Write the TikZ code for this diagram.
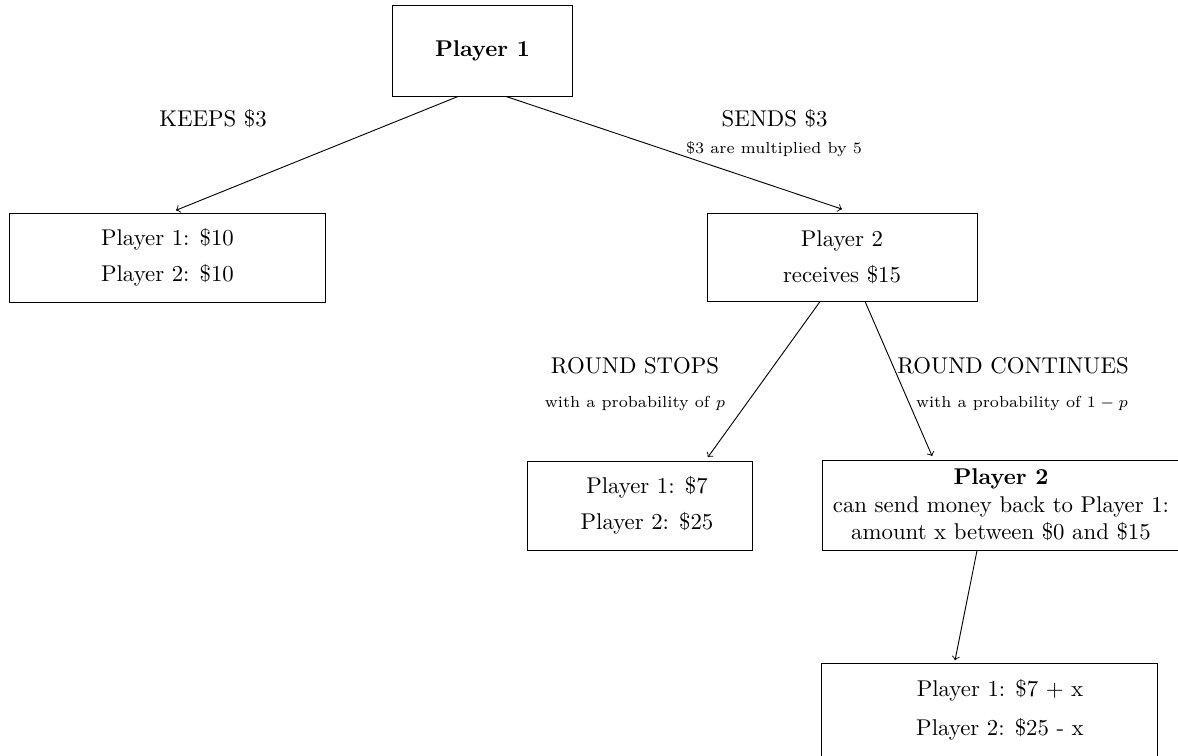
\documentclass[tikz,border=0pt]{standalone}
\begin{document}
\begin{tikzpicture}[x=0.4386pt, y=-0.4386pt,
  box/.style={draw, rectangle, inner sep=0pt, align=center},
  txt/.style={inner sep=0pt, align=center},
  small/.style={inner sep=0pt, align=center, font=\scriptsize},
  conn/.style={->}]
\useasboundingbox (0,0) rectangle (1178,756);
% boxes
\node[box, minimum width=78.9pt, minimum height=39.9pt, font=\bfseries] (p1) at (482.5,50.5) {Player 1};
\node[box, minimum width=138.2pt, minimum height=39.0pt] (keep) at (167.5,257.5) {Player 1: \$10\\[4pt]Player 2: \$10};
\node[box, minimum width=118.4pt, minimum height=38.6pt] (p2) at (842,257) {Player 2\\[4pt]receives \$15};
\node[box, minimum width=98.7pt, minimum height=39.0pt] (stop) at (639.5,505.5) {};
\node[txt] (stoptxt) at (647,505.5) {Player 1: \$7\\[4pt]Player 2: \$25};
\node[box, minimum width=156.6pt, minimum height=39.5pt] (cont) at (1000.5,505) {};
\node[txt] (conttxt) at (1001,505) {\textbf{Player 2}\\can send money back to Player 1:\\amount x between \$0 and \$15};
\node[box, minimum width=147.4pt, minimum height=41.2pt] (fin) at (989,710) {};
\node[txt] (fintxt) at (1000,710) {Player 1: \$7 + x\\[5pt]Player 2: \$25 - x};
% labels
\node[txt] (kl) at (213,119) {KEEPS \$3};
\node[txt] (sl) at (774.5,119) {SENDS \$3};
\node[small] (sm) at (774,149) {\$3 are multiplied by 5};
\node[txt] (rs) at (635,366) {ROUND STOPS};
\node[small] (rsp) at (635,404) {with a probability of $p$};
\node[txt] (rc) at (1013,366) {ROUND CONTINUES};
\node[small] (rcp) at (1022,404) {with a probability of $1-p$};
% connectors
\draw[conn] ([xshift=-10.7pt]p1.south) -- ([xshift=3.7pt,yshift=1pt]keep.north);
\draw[conn] ([xshift=10.3pt]p1.south) -- ([yshift=1.5pt]p2.north);
\draw[conn] ([xshift=-9.6pt]p2.south) -- ([xshift=30pt,yshift=1.5pt]stop.north);
\draw[conn] ([xshift=10.1pt]p2.south) -- ([xshift=-30pt,yshift=1.5pt]cont.north);
\draw[conn] ([xshift=-10.3pt]cont.south) -- ([xshift=-14.9pt,yshift=1pt]fin.north);
\end{tikzpicture}
\end{document}
